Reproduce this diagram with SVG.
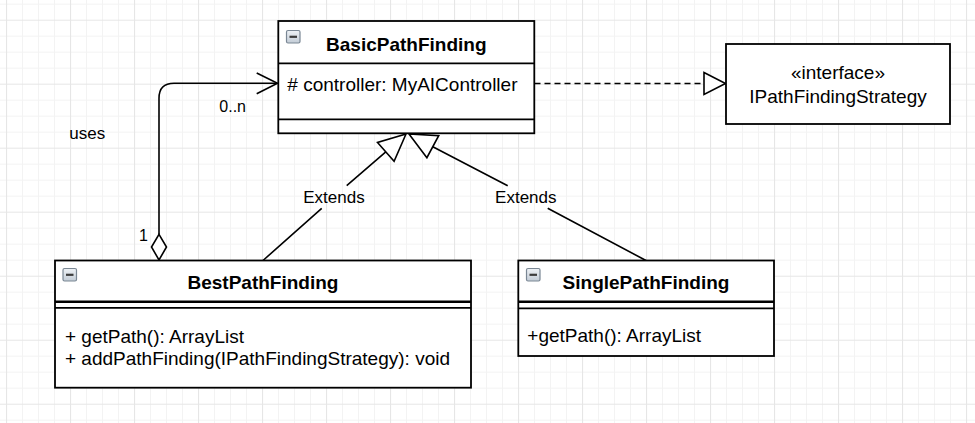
<svg xmlns="http://www.w3.org/2000/svg" width="975" height="423" viewBox="0 0 975 423">
<style>
  .box { fill: #ffffff; stroke: #000000; stroke-width: 1.8; }
  .sep { stroke: #000000; stroke-width: 1.8; fill: none; }
  .sep2 { stroke: #000000; stroke-width: 2.6; fill: none; }
  .edge { stroke: #000000; stroke-width: 1.6; fill: none; }
  .head { fill: #ffffff; stroke: #000000; stroke-width: 1.6; }
  .title { font-family: "Liberation Sans", Arial, sans-serif; font-size: 19px; font-weight: bold; fill: #000; text-anchor: middle; }
  .txt { font-family: "Liberation Sans", Arial, sans-serif; font-size: 19px; fill: #000; }
  .mid { text-anchor: middle; }
  .lbl { font-family: "Liberation Sans", Arial, sans-serif; font-size: 17px; fill: #000; }
  .small { font-family: "Liberation Sans", Arial, sans-serif; font-size: 16px; fill: #000; }
  .icon { fill: url(#iconfill); stroke: #7a8794; stroke-width: 1.2; }
  .minus { stroke: #3c3c3c; stroke-width: 2.2; }
</style>
<defs>
  <pattern id="grid" x="6" y="19.7" width="64" height="64" patternUnits="userSpaceOnUse">
    <path d="M16.5 0V64M32.5 0V64M48.5 0V64M0 16.5H64M0 32.5H64M0 48.5H64" stroke="#f3f3f3" stroke-width="1" fill="none"/>
    <path d="M0.5 0V64M0 0.5H64" stroke="#e6e6e6" stroke-width="1.2" fill="none"/>
  </pattern>
  <linearGradient id="iconfill" x1="0" y1="0" x2="0" y2="1">
    <stop offset="0" stop-color="#eef2f6"/>
    <stop offset="1" stop-color="#c3ccd6"/>
  </linearGradient>
</defs>
<rect x="0" y="0" width="975" height="423" fill="#ffffff"/>
<rect x="0" y="0" width="975" height="423" fill="url(#grid)"/>

<g id="connectors">
  <path class="edge" d="M159 234.5V98.3Q159 83.3 174 83.3H277"/>
  <polyline class="edge" points="256.7,73 277.5,83.3 256.7,93.8"/>
  <polygon class="head" points="159,234.3 166.5,247 159,260 151.5,247"/>
  <path class="edge" d="M534.5 83.5H704" stroke-dasharray="6 4"/>
  <polygon class="head" points="704,72.5 725.5,83.5 704,94.5"/>
  <path class="edge" d="M385.8 151.9L346.7 185.7M321.7 208.3L263 260.5"/>
  <polygon class="head" points="406,134 394.1,161.3 377.5,142.5"/>
  <path class="edge" d="M432.8 146.7L507.7 185.7M547.7 208.3L646 260.5"/>
  <polygon class="head" points="409,134 426.9,157.7 438.7,135.7"/>
  <text class="small" x="219.3" y="111.7">0..n</text>
  <text class="small" x="139" y="240.7">1</text>
  <text class="lbl mid" x="334" y="202.7">Extends</text>
  <text class="lbl mid" x="525.8" y="202.7">Extends</text>
</g>

<g id="uses-label">
  <text class="lbl" x="69.3" y="139.3">uses</text>
</g>

<g id="BasicPathFinding">
  <rect class="box" x="278.3" y="21" width="256" height="112.3"/>
  <line class="sep" x1="278.3" y1="63.3" x2="534.3" y2="63.3"/>
  <line class="sep" x1="278.3" y1="119.3" x2="534.3" y2="119.3"/>
  <rect class="icon" x="286.5" y="30.5" width="13.5" height="12.5" rx="1.5"/>
  <line class="minus" x1="289.5" y1="36.8" x2="297" y2="36.8"/>
  <text class="title" x="406.3" y="50.7">BasicPathFinding</text>
  <text class="txt" x="287.3" y="91"># controller: MyAIController</text>
</g>

<g id="IPathFindingStrategy">
  <rect class="box" x="726" y="44" width="224" height="80"/>
  <text class="txt mid" x="838" y="79.3">«interface»</text>
  <text class="txt mid" x="838" y="103.3">IPathFindingStrategy</text>
</g>

<g id="BestPathFinding">
  <rect class="box" x="55" y="260.5" width="416" height="127.2"/>
  <line class="sep2" x1="55" y1="301.7" x2="471" y2="301.7"/>
  <line class="sep" x1="55" y1="307.8" x2="471" y2="307.8"/>
  <rect class="icon" x="63" y="268.5" width="13.5" height="12.5" rx="1.5"/>
  <line class="minus" x1="66" y1="274.8" x2="73.5" y2="274.8"/>
  <text class="title" x="263" y="289">BestPathFinding</text>
  <text class="txt" x="65" y="342.7">+ getPath(): ArrayList</text>
  <text class="txt" x="65" y="365">+ addPathFinding(IPathFindingStrategy): void</text>
</g>

<g id="SinglePathFinding">
  <rect class="box" x="518.3" y="260.5" width="255.7" height="95.5"/>
  <line class="sep2" x1="518.3" y1="301.7" x2="774" y2="301.7"/>
  <line class="sep" x1="518.3" y1="308.3" x2="774" y2="308.3"/>
  <rect class="icon" x="526.5" y="268.5" width="13.5" height="12.5" rx="1.5"/>
  <line class="minus" x1="529.5" y1="274.8" x2="537" y2="274.8"/>
  <text class="title" x="646" y="289">SinglePathFinding</text>
  <text class="txt" x="527.3" y="342.3">+getPath(): ArrayList</text>
</g>
</svg>
